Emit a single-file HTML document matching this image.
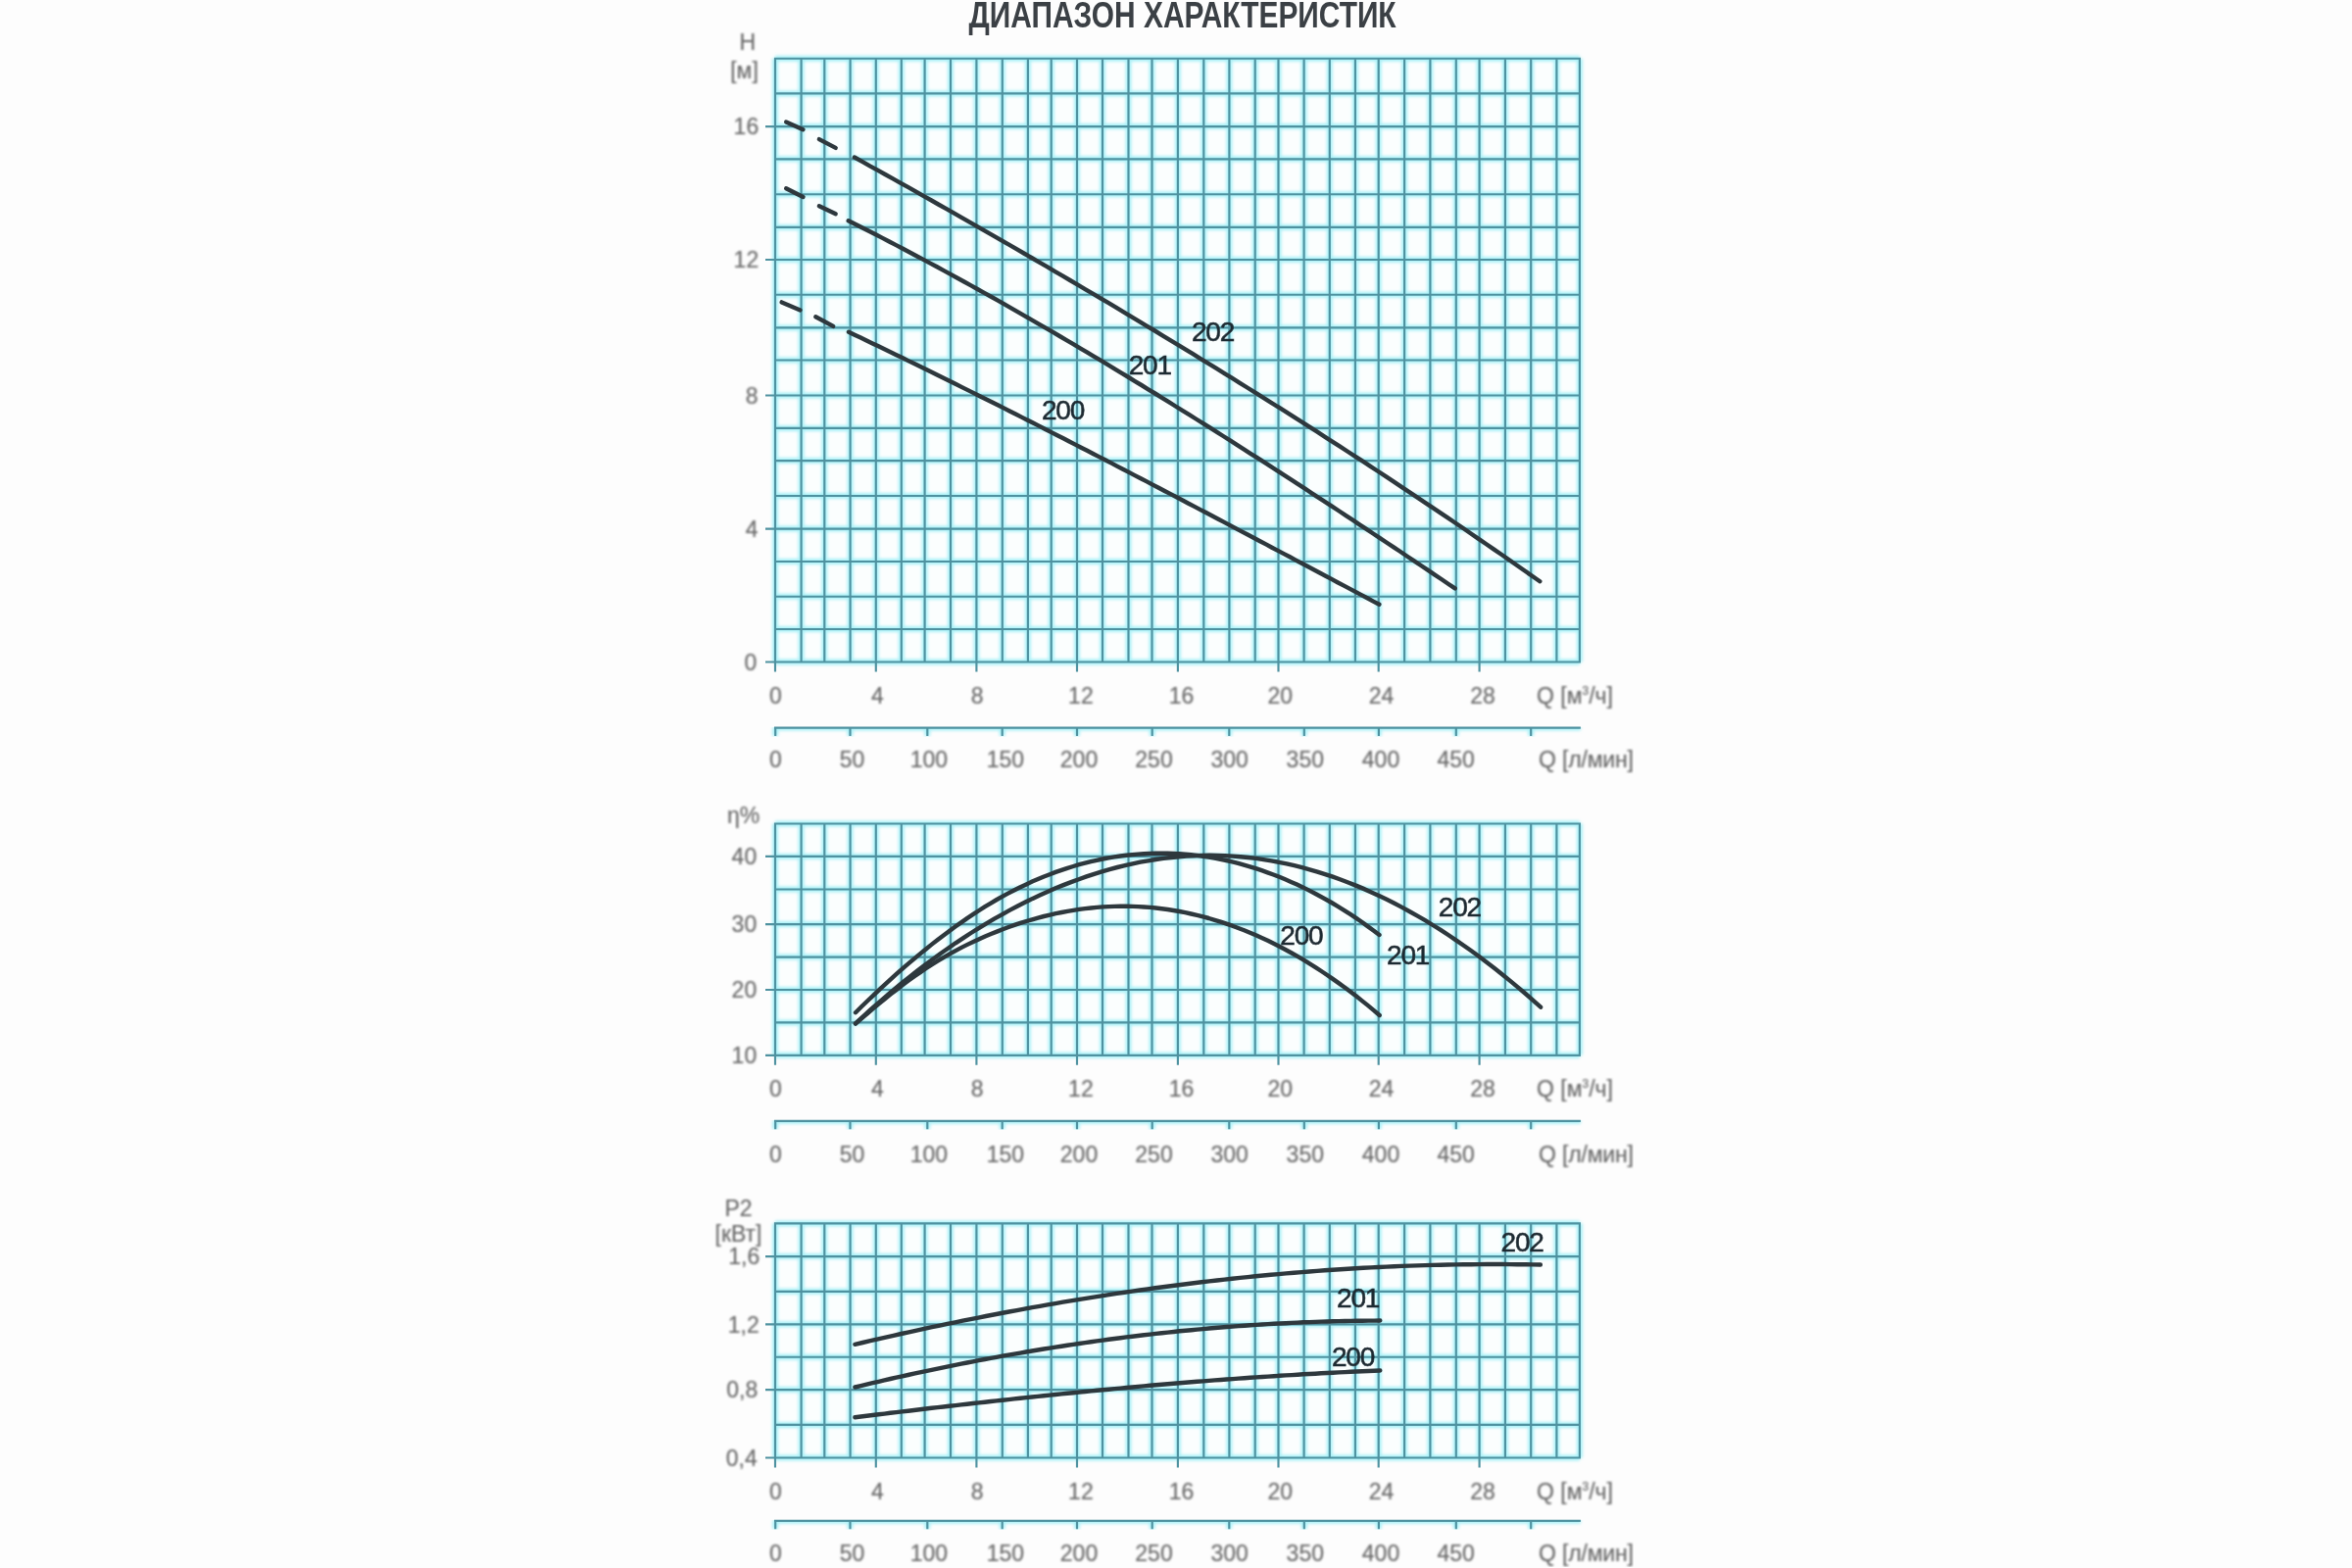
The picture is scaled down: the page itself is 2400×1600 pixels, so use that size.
<!DOCTYPE html>
<html><head><meta charset="utf-8"><title>Диапазон характеристик</title><style>
html,body{margin:0;padding:0;background:#fdfdfd;overflow:hidden}
svg{display:block}
text{font-family:"Liberation Sans",sans-serif}
.ax{fill:#666666;font-size:23px;stroke:#666666;stroke-width:0.15px;filter:url(#tb)}
.cl{fill:#1f2a31;font-size:28px;letter-spacing:-1.2px;stroke:#1f2a31;stroke-width:0.55px;filter:url(#tb2)}
.ttl{fill:#3b4045;font-size:37px;font-weight:bold}
</style></head><body>
<svg width="2400" height="1600" viewBox="0 0 2400 1600">
<defs><filter id="gl" x="-5%" y="-5%" width="110%" height="110%"><feGaussianBlur stdDeviation="1.4"/></filter><filter id="soft" x="0" y="0" width="100%" height="100%"><feGaussianBlur stdDeviation="0.55"/></filter><filter id="tb" x="-10%" y="-10%" width="120%" height="120%"><feGaussianBlur stdDeviation="0.9"/></filter><filter id="tb2" x="-10%" y="-10%" width="120%" height="120%"><feGaussianBlur stdDeviation="0.6"/></filter></defs>
<g filter="url(#soft)">
<rect x="791.0" y="59.7" width="820.9" height="615.8" fill="#fbfefe"/>
<path d="M791.0 59.7H1611.9M791.0 95.4H1611.9M791.0 129.1H1611.9M791.0 162.3H1611.9M791.0 198.2H1611.9M791.0 231.9H1611.9M791.0 265.0H1611.9M791.0 300.7H1611.9M791.0 334.4H1611.9M791.0 367.5H1611.9M791.0 403.5H1611.9M791.0 436.9H1611.9M791.0 470.1H1611.9M791.0 506.0H1611.9M791.0 539.6H1611.9M791.0 573.0H1611.9M791.0 608.7H1611.9M791.0 642.0H1611.9M791.0 675.5H1611.9M791.0 59.7V675.5M817.6 59.7V675.5M841.3 59.7V675.5M867.6 59.7V675.5M893.8 59.7V675.5M919.8 59.7V675.5M943.6 59.7V675.5M970.0 59.7V675.5M996.4 59.7V675.5M1022.8 59.7V675.5M1048.9 59.7V675.5M1072.7 59.7V675.5M1099.0 59.7V675.5M1125.0 59.7V675.5M1151.5 59.7V675.5M1175.5 59.7V675.5M1201.9 59.7V675.5M1228.3 59.7V675.5M1254.4 59.7V675.5M1280.7 59.7V675.5M1304.5 59.7V675.5M1330.6 59.7V675.5M1356.8 59.7V675.5M1382.9 59.7V675.5M1406.7 59.7V675.5M1433.1 59.7V675.5M1459.4 59.7V675.5M1485.8 59.7V675.5M1509.6 59.7V675.5M1535.9 59.7V675.5M1562.2 59.7V675.5M1588.4 59.7V675.5M1611.9 59.7V675.5" stroke="#a8f1f8" stroke-width="6" fill="none" filter="url(#gl)"/>
<path d="M791.0 59.7H1611.9M791.0 95.4H1611.9M791.0 129.1H1611.9M791.0 162.3H1611.9M791.0 198.2H1611.9M791.0 231.9H1611.9M791.0 265.0H1611.9M791.0 300.7H1611.9M791.0 334.4H1611.9M791.0 367.5H1611.9M791.0 403.5H1611.9M791.0 436.9H1611.9M791.0 470.1H1611.9M791.0 506.0H1611.9M791.0 539.6H1611.9M791.0 573.0H1611.9M791.0 608.7H1611.9M791.0 642.0H1611.9M791.0 675.5H1611.9M791.0 59.7V675.5M817.6 59.7V675.5M841.3 59.7V675.5M867.6 59.7V675.5M893.8 59.7V675.5M919.8 59.7V675.5M943.6 59.7V675.5M970.0 59.7V675.5M996.4 59.7V675.5M1022.8 59.7V675.5M1048.9 59.7V675.5M1072.7 59.7V675.5M1099.0 59.7V675.5M1125.0 59.7V675.5M1151.5 59.7V675.5M1175.5 59.7V675.5M1201.9 59.7V675.5M1228.3 59.7V675.5M1254.4 59.7V675.5M1280.7 59.7V675.5M1304.5 59.7V675.5M1330.6 59.7V675.5M1356.8 59.7V675.5M1382.9 59.7V675.5M1406.7 59.7V675.5M1433.1 59.7V675.5M1459.4 59.7V675.5M1485.8 59.7V675.5M1509.6 59.7V675.5M1535.9 59.7V675.5M1562.2 59.7V675.5M1588.4 59.7V675.5M1611.9 59.7V675.5" stroke="#4f92a0" stroke-width="2.15" fill="none" stroke-linecap="square"/>
<path d="M781 129.1H791.0M781 265.0H791.0M781 403.5H791.0M781 539.6H791.0M781 675.5H791.0M791.0 675.5v10M893.8 675.5v10M996.4 675.5v10M1099.0 675.5v10M1201.9 675.5v10M1304.5 675.5v10M1406.7 675.5v10M1509.6 675.5v10" stroke="#4f92a0" stroke-width="2.15" fill="none"/>
<path d="M790.0 742.6H1612.9M791.2 742.6v8.5M867.5 742.6v8.5M946.3 742.6v8.5M1022.7 742.6v8.5M1099.0 742.6v8.5M1175.7 742.6v8.5M1254.3 742.6v8.5M1330.8 742.6v8.5M1406.9 742.6v8.5M1485.8 742.6v8.5M1562.2 742.6v8.5" stroke="#a8f1f8" stroke-width="6" fill="none" filter="url(#gl)"/>
<path d="M790.0 742.6H1612.9M791.2 742.6v8.5M867.5 742.6v8.5M946.3 742.6v8.5M1022.7 742.6v8.5M1099.0 742.6v8.5M1175.7 742.6v8.5M1254.3 742.6v8.5M1330.8 742.6v8.5M1406.9 742.6v8.5M1485.8 742.6v8.5M1562.2 742.6v8.5" stroke="#4f92a0" stroke-width="2.15" fill="none"/>
<text class="ax" x="774.2" y="137.4" text-anchor="end">16</text>
<text class="ax" x="774.2" y="273.3" text-anchor="end">12</text>
<text class="ax" x="773.5" y="411.8" text-anchor="end">8</text>
<text class="ax" x="773.5" y="547.9" text-anchor="end">4</text>
<text class="ax" x="772.2" y="683.8" text-anchor="end">0</text>
<text class="ax lx" x="791.5" y="717.6" text-anchor="middle">0</text>
<text class="ax lx" x="895.3" y="717.6" text-anchor="middle">4</text>
<text class="ax lx" x="997.2" y="717.6" text-anchor="middle">8</text>
<text class="ax lx" x="1102.9" y="717.6" text-anchor="middle">12</text>
<text class="ax lx" x="1205.6" y="717.6" text-anchor="middle">16</text>
<text class="ax lx" x="1306.3" y="717.6" text-anchor="middle">20</text>
<text class="ax lx" x="1409.6" y="717.6" text-anchor="middle">24</text>
<text class="ax lx" x="1513.0" y="717.6" text-anchor="middle">28</text>
<text class="ax" x="1568" y="717.6">Q [м<tspan font-size="12" dy="-8.5">3</tspan><tspan dy="8.5">/ч]</tspan></text>
<text class="ax lx" x="791.5" y="783.1" text-anchor="middle">0</text>
<text class="ax lx" x="869.5" y="783.1" text-anchor="middle">50</text>
<text class="ax lx" x="947.9" y="783.1" text-anchor="middle">100</text>
<text class="ax lx" x="1025.9" y="783.1" text-anchor="middle">150</text>
<text class="ax lx" x="1101.0" y="783.1" text-anchor="middle">200</text>
<text class="ax lx" x="1177.5" y="783.1" text-anchor="middle">250</text>
<text class="ax lx" x="1254.6" y="783.1" text-anchor="middle">300</text>
<text class="ax lx" x="1331.8" y="783.1" text-anchor="middle">350</text>
<text class="ax lx" x="1409.0" y="783.1" text-anchor="middle">400</text>
<text class="ax lx" x="1485.7" y="783.1" text-anchor="middle">450</text>
<text class="ax" x="1570" y="783.1" textLength="97" lengthAdjust="spacing">Q [л/мин]</text>
<rect x="791.0" y="840.5" width="820.9" height="236.3" fill="#fbfefe"/>
<path d="M791.0 840.5H1611.9M791.0 873.9H1611.9M791.0 907.5H1611.9M791.0 943.1H1611.9M791.0 976.6H1611.9M791.0 1010.0H1611.9M791.0 1043.4H1611.9M791.0 1076.8H1611.9M791.0 840.5V1076.8M817.6 840.5V1076.8M841.3 840.5V1076.8M867.6 840.5V1076.8M893.8 840.5V1076.8M919.8 840.5V1076.8M943.6 840.5V1076.8M970.0 840.5V1076.8M996.4 840.5V1076.8M1022.8 840.5V1076.8M1048.9 840.5V1076.8M1072.7 840.5V1076.8M1099.0 840.5V1076.8M1125.0 840.5V1076.8M1151.5 840.5V1076.8M1175.5 840.5V1076.8M1201.9 840.5V1076.8M1228.3 840.5V1076.8M1254.4 840.5V1076.8M1280.7 840.5V1076.8M1304.5 840.5V1076.8M1330.6 840.5V1076.8M1356.8 840.5V1076.8M1382.9 840.5V1076.8M1406.7 840.5V1076.8M1433.1 840.5V1076.8M1459.4 840.5V1076.8M1485.8 840.5V1076.8M1509.6 840.5V1076.8M1535.9 840.5V1076.8M1562.2 840.5V1076.8M1588.4 840.5V1076.8M1611.9 840.5V1076.8" stroke="#a8f1f8" stroke-width="6" fill="none" filter="url(#gl)"/>
<path d="M791.0 840.5H1611.9M791.0 873.9H1611.9M791.0 907.5H1611.9M791.0 943.1H1611.9M791.0 976.6H1611.9M791.0 1010.0H1611.9M791.0 1043.4H1611.9M791.0 1076.8H1611.9M791.0 840.5V1076.8M817.6 840.5V1076.8M841.3 840.5V1076.8M867.6 840.5V1076.8M893.8 840.5V1076.8M919.8 840.5V1076.8M943.6 840.5V1076.8M970.0 840.5V1076.8M996.4 840.5V1076.8M1022.8 840.5V1076.8M1048.9 840.5V1076.8M1072.7 840.5V1076.8M1099.0 840.5V1076.8M1125.0 840.5V1076.8M1151.5 840.5V1076.8M1175.5 840.5V1076.8M1201.9 840.5V1076.8M1228.3 840.5V1076.8M1254.4 840.5V1076.8M1280.7 840.5V1076.8M1304.5 840.5V1076.8M1330.6 840.5V1076.8M1356.8 840.5V1076.8M1382.9 840.5V1076.8M1406.7 840.5V1076.8M1433.1 840.5V1076.8M1459.4 840.5V1076.8M1485.8 840.5V1076.8M1509.6 840.5V1076.8M1535.9 840.5V1076.8M1562.2 840.5V1076.8M1588.4 840.5V1076.8M1611.9 840.5V1076.8" stroke="#4f92a0" stroke-width="2.15" fill="none" stroke-linecap="square"/>
<path d="M781 873.9H791.0M781 943.1H791.0M781 1010.0H791.0M781 1076.8H791.0M791.0 1076.8v10M893.8 1076.8v10M996.4 1076.8v10M1099.0 1076.8v10M1201.9 1076.8v10M1304.5 1076.8v10M1406.7 1076.8v10M1509.6 1076.8v10" stroke="#4f92a0" stroke-width="2.15" fill="none"/>
<path d="M790.0 1143.8H1612.9M791.2 1143.8v8.5M867.5 1143.8v8.5M946.3 1143.8v8.5M1022.7 1143.8v8.5M1099.0 1143.8v8.5M1175.7 1143.8v8.5M1254.3 1143.8v8.5M1330.8 1143.8v8.5M1406.9 1143.8v8.5M1485.8 1143.8v8.5M1562.2 1143.8v8.5" stroke="#a8f1f8" stroke-width="6" fill="none" filter="url(#gl)"/>
<path d="M790.0 1143.8H1612.9M791.2 1143.8v8.5M867.5 1143.8v8.5M946.3 1143.8v8.5M1022.7 1143.8v8.5M1099.0 1143.8v8.5M1175.7 1143.8v8.5M1254.3 1143.8v8.5M1330.8 1143.8v8.5M1406.9 1143.8v8.5M1485.8 1143.8v8.5M1562.2 1143.8v8.5" stroke="#4f92a0" stroke-width="2.15" fill="none"/>
<text class="ax" x="772.2" y="882.2" text-anchor="end">40</text>
<text class="ax" x="772.2" y="951.4" text-anchor="end">30</text>
<text class="ax" x="772.2" y="1018.3" text-anchor="end">20</text>
<text class="ax" x="772.2" y="1085.1" text-anchor="end">10</text>
<text class="ax lx" x="791.5" y="1118.9" text-anchor="middle">0</text>
<text class="ax lx" x="895.3" y="1118.9" text-anchor="middle">4</text>
<text class="ax lx" x="997.2" y="1118.9" text-anchor="middle">8</text>
<text class="ax lx" x="1102.9" y="1118.9" text-anchor="middle">12</text>
<text class="ax lx" x="1205.6" y="1118.9" text-anchor="middle">16</text>
<text class="ax lx" x="1306.3" y="1118.9" text-anchor="middle">20</text>
<text class="ax lx" x="1409.6" y="1118.9" text-anchor="middle">24</text>
<text class="ax lx" x="1513.0" y="1118.9" text-anchor="middle">28</text>
<text class="ax" x="1568" y="1118.9">Q [м<tspan font-size="12" dy="-8.5">3</tspan><tspan dy="8.5">/ч]</tspan></text>
<text class="ax lx" x="791.5" y="1185.6" text-anchor="middle">0</text>
<text class="ax lx" x="869.5" y="1185.6" text-anchor="middle">50</text>
<text class="ax lx" x="947.9" y="1185.6" text-anchor="middle">100</text>
<text class="ax lx" x="1025.9" y="1185.6" text-anchor="middle">150</text>
<text class="ax lx" x="1101.0" y="1185.6" text-anchor="middle">200</text>
<text class="ax lx" x="1177.5" y="1185.6" text-anchor="middle">250</text>
<text class="ax lx" x="1254.6" y="1185.6" text-anchor="middle">300</text>
<text class="ax lx" x="1331.8" y="1185.6" text-anchor="middle">350</text>
<text class="ax lx" x="1409.0" y="1185.6" text-anchor="middle">400</text>
<text class="ax lx" x="1485.7" y="1185.6" text-anchor="middle">450</text>
<text class="ax" x="1570" y="1185.6" textLength="97" lengthAdjust="spacing">Q [л/мин]</text>
<rect x="791.0" y="1248.4" width="820.9" height="239.1" fill="#fbfefe"/>
<path d="M791.0 1248.4H1611.9M791.0 1282.1H1611.9M791.0 1317.8H1611.9M791.0 1351.3H1611.9M791.0 1384.7H1611.9M791.0 1418.1H1611.9M791.0 1453.9H1611.9M791.0 1487.5H1611.9M791.0 1248.4V1487.5M817.6 1248.4V1487.5M841.3 1248.4V1487.5M867.6 1248.4V1487.5M893.8 1248.4V1487.5M919.8 1248.4V1487.5M943.6 1248.4V1487.5M970.0 1248.4V1487.5M996.4 1248.4V1487.5M1022.8 1248.4V1487.5M1048.9 1248.4V1487.5M1072.7 1248.4V1487.5M1099.0 1248.4V1487.5M1125.0 1248.4V1487.5M1151.5 1248.4V1487.5M1175.5 1248.4V1487.5M1201.9 1248.4V1487.5M1228.3 1248.4V1487.5M1254.4 1248.4V1487.5M1280.7 1248.4V1487.5M1304.5 1248.4V1487.5M1330.6 1248.4V1487.5M1356.8 1248.4V1487.5M1382.9 1248.4V1487.5M1406.7 1248.4V1487.5M1433.1 1248.4V1487.5M1459.4 1248.4V1487.5M1485.8 1248.4V1487.5M1509.6 1248.4V1487.5M1535.9 1248.4V1487.5M1562.2 1248.4V1487.5M1588.4 1248.4V1487.5M1611.9 1248.4V1487.5" stroke="#a8f1f8" stroke-width="6" fill="none" filter="url(#gl)"/>
<path d="M791.0 1248.4H1611.9M791.0 1282.1H1611.9M791.0 1317.8H1611.9M791.0 1351.3H1611.9M791.0 1384.7H1611.9M791.0 1418.1H1611.9M791.0 1453.9H1611.9M791.0 1487.5H1611.9M791.0 1248.4V1487.5M817.6 1248.4V1487.5M841.3 1248.4V1487.5M867.6 1248.4V1487.5M893.8 1248.4V1487.5M919.8 1248.4V1487.5M943.6 1248.4V1487.5M970.0 1248.4V1487.5M996.4 1248.4V1487.5M1022.8 1248.4V1487.5M1048.9 1248.4V1487.5M1072.7 1248.4V1487.5M1099.0 1248.4V1487.5M1125.0 1248.4V1487.5M1151.5 1248.4V1487.5M1175.5 1248.4V1487.5M1201.9 1248.4V1487.5M1228.3 1248.4V1487.5M1254.4 1248.4V1487.5M1280.7 1248.4V1487.5M1304.5 1248.4V1487.5M1330.6 1248.4V1487.5M1356.8 1248.4V1487.5M1382.9 1248.4V1487.5M1406.7 1248.4V1487.5M1433.1 1248.4V1487.5M1459.4 1248.4V1487.5M1485.8 1248.4V1487.5M1509.6 1248.4V1487.5M1535.9 1248.4V1487.5M1562.2 1248.4V1487.5M1588.4 1248.4V1487.5M1611.9 1248.4V1487.5" stroke="#4f92a0" stroke-width="2.15" fill="none" stroke-linecap="square"/>
<path d="M781 1282.1H791.0M781 1351.3H791.0M781 1418.1H791.0M781 1487.5H791.0M791.0 1487.5v10M893.8 1487.5v10M996.4 1487.5v10M1099.0 1487.5v10M1201.9 1487.5v10M1304.5 1487.5v10M1406.7 1487.5v10M1509.6 1487.5v10" stroke="#4f92a0" stroke-width="2.15" fill="none"/>
<path d="M790.0 1551.8H1612.9M791.2 1551.8v8.5M867.5 1551.8v8.5M946.3 1551.8v8.5M1022.7 1551.8v8.5M1099.0 1551.8v8.5M1175.7 1551.8v8.5M1254.3 1551.8v8.5M1330.8 1551.8v8.5M1406.9 1551.8v8.5M1485.8 1551.8v8.5M1562.2 1551.8v8.5" stroke="#a8f1f8" stroke-width="6" fill="none" filter="url(#gl)"/>
<path d="M790.0 1551.8H1612.9M791.2 1551.8v8.5M867.5 1551.8v8.5M946.3 1551.8v8.5M1022.7 1551.8v8.5M1099.0 1551.8v8.5M1175.7 1551.8v8.5M1254.3 1551.8v8.5M1330.8 1551.8v8.5M1406.9 1551.8v8.5M1485.8 1551.8v8.5M1562.2 1551.8v8.5" stroke="#4f92a0" stroke-width="2.15" fill="none"/>
<text class="ax" x="775.2" y="1290.4" text-anchor="end">1,6</text>
<text class="ax" x="774.8" y="1359.6" text-anchor="end">1,2</text>
<text class="ax" x="773.2" y="1426.4" text-anchor="end">0,8</text>
<text class="ax" x="772.8" y="1495.8" text-anchor="end">0,4</text>
<text class="ax lx" x="791.5" y="1529.6" text-anchor="middle">0</text>
<text class="ax lx" x="895.3" y="1529.6" text-anchor="middle">4</text>
<text class="ax lx" x="997.2" y="1529.6" text-anchor="middle">8</text>
<text class="ax lx" x="1102.9" y="1529.6" text-anchor="middle">12</text>
<text class="ax lx" x="1205.6" y="1529.6" text-anchor="middle">16</text>
<text class="ax lx" x="1306.3" y="1529.6" text-anchor="middle">20</text>
<text class="ax lx" x="1409.6" y="1529.6" text-anchor="middle">24</text>
<text class="ax lx" x="1513.0" y="1529.6" text-anchor="middle">28</text>
<text class="ax" x="1568" y="1529.6">Q [м<tspan font-size="12" dy="-8.5">3</tspan><tspan dy="8.5">/ч]</tspan></text>
<text class="ax lx" x="791.5" y="1593.3" text-anchor="middle">0</text>
<text class="ax lx" x="869.5" y="1593.3" text-anchor="middle">50</text>
<text class="ax lx" x="947.9" y="1593.3" text-anchor="middle">100</text>
<text class="ax lx" x="1025.9" y="1593.3" text-anchor="middle">150</text>
<text class="ax lx" x="1101.0" y="1593.3" text-anchor="middle">200</text>
<text class="ax lx" x="1177.5" y="1593.3" text-anchor="middle">250</text>
<text class="ax lx" x="1254.6" y="1593.3" text-anchor="middle">300</text>
<text class="ax lx" x="1331.8" y="1593.3" text-anchor="middle">350</text>
<text class="ax lx" x="1409.0" y="1593.3" text-anchor="middle">400</text>
<text class="ax lx" x="1485.7" y="1593.3" text-anchor="middle">450</text>
<text class="ax" x="1570" y="1593.3" textLength="97" lengthAdjust="spacing">Q [л/мин]</text>
<text class="ax" x="762.8" y="51" text-anchor="middle">H</text>
<text class="ax" x="759.5" y="80" text-anchor="middle">[м]</text>
<text class="ax" x="758.7" y="840" text-anchor="middle">η%</text>
<text class="ax" x="753.5" y="1241" text-anchor="middle">P2</text>
<text class="ax" x="753.5" y="1267" text-anchor="middle">[кВт]</text>
<text class="ttl" x="1206.6" y="28" text-anchor="middle" textLength="436" lengthAdjust="spacingAndGlyphs">ДИАПАЗОН ХАРАКТЕРИСТИК</text>
<path d="M871.9 160.5 L879.8 164.9 L887.6 169.3 L895.5 173.7 L903.3 178.0 L911.2 182.4 L919.1 186.8 L926.9 191.2 L934.8 195.7 L942.6 200.1 L950.5 204.5 L958.3 209.0 L966.2 213.4 L974.1 217.9 L981.9 222.4 L989.8 226.8 L997.6 231.3 L1005.5 235.8 L1013.4 240.3 L1021.2 244.9 L1029.1 249.4 L1036.9 253.9 L1044.8 258.5 L1052.6 263.0 L1060.5 267.6 L1068.4 272.2 L1076.2 276.8 L1084.1 281.4 L1091.9 286.0 L1099.8 290.6 L1107.7 295.3 L1115.5 299.9 L1123.4 304.6 L1131.2 309.2 L1139.1 313.9 L1146.9 318.6 L1154.8 323.3 L1162.7 328.1 L1170.5 332.8 L1178.4 337.5 L1186.2 342.3 L1194.1 347.1 L1202.0 351.8 L1209.8 356.6 L1217.7 361.4 L1225.5 366.3 L1233.4 371.1 L1241.2 375.9 L1249.1 380.8 L1257.0 385.7 L1264.8 390.6 L1272.7 395.5 L1280.5 400.4 L1288.4 405.3 L1296.3 410.3 L1304.1 415.2 L1312.0 420.2 L1319.8 425.2 L1327.7 430.2 L1335.5 435.2 L1343.4 440.2 L1351.3 445.3 L1359.1 450.3 L1367.0 455.4 L1374.8 460.5 L1382.7 465.6 L1390.6 470.7 L1398.4 475.9 L1406.3 481.0 L1414.1 486.2 L1422.0 491.4 L1429.8 496.6 L1437.7 501.8 L1445.6 507.1 L1453.4 512.3 L1461.3 517.6 L1469.1 522.9 L1477.0 528.2 L1484.9 533.5 L1492.7 538.8 L1500.6 544.2 L1508.4 549.6 L1516.3 555.0 L1524.1 560.4 L1532.0 565.8 L1539.9 571.2 L1547.7 576.7 L1555.6 582.2 L1563.4 587.7 L1571.3 593.2" stroke="#2e383e" stroke-width="4.4" fill="none" stroke-linecap="round" stroke-linejoin="round"/>
<path d="M865.7 225.2 L872.7 228.7 L879.6 232.2 L886.6 235.8 L893.5 239.3 L900.5 242.9 L907.4 246.5 L914.4 250.1 L921.3 253.8 L928.3 257.5 L935.3 261.2 L942.2 264.9 L949.2 268.6 L956.1 272.3 L963.1 276.1 L970.0 279.9 L977.0 283.7 L983.9 287.5 L990.9 291.4 L997.8 295.2 L1004.8 299.1 L1011.8 303.0 L1018.7 306.9 L1025.7 310.9 L1032.6 314.8 L1039.6 318.8 L1046.5 322.8 L1053.5 326.8 L1060.4 330.8 L1067.4 334.8 L1074.4 338.9 L1081.3 343.0 L1088.3 347.1 L1095.2 351.2 L1102.2 355.3 L1109.1 359.4 L1116.1 363.6 L1123.0 367.7 L1130.0 371.9 L1136.9 376.1 L1143.9 380.3 L1150.9 384.5 L1157.8 388.8 L1164.8 393.0 L1171.7 397.3 L1178.7 401.5 L1185.6 405.8 L1192.6 410.1 L1199.5 414.5 L1206.5 418.8 L1213.5 423.1 L1220.4 427.5 L1227.4 431.9 L1234.3 436.2 L1241.3 440.6 L1248.2 445.0 L1255.2 449.4 L1262.1 453.9 L1269.1 458.3 L1276.0 462.8 L1283.0 467.2 L1290.0 471.7 L1296.9 476.2 L1303.9 480.7 L1310.8 485.2 L1317.8 489.7 L1324.7 494.2 L1331.7 498.7 L1338.6 503.3 L1345.6 507.8 L1352.6 512.4 L1359.5 516.9 L1366.5 521.5 L1373.4 526.1 L1380.4 530.7 L1387.3 535.3 L1394.3 539.9 L1401.2 544.5 L1408.2 549.1 L1415.1 553.8 L1422.1 558.4 L1429.1 563.0 L1436.0 567.7 L1443.0 572.3 L1449.9 577.0 L1456.9 581.7 L1463.8 586.3 L1470.8 591.0 L1477.7 595.7 L1484.7 600.4" stroke="#2e383e" stroke-width="4.4" fill="none" stroke-linecap="round" stroke-linejoin="round"/>
<path d="M866.0 338.8 L872.1 341.7 L878.2 344.6 L884.2 347.5 L890.3 350.4 L896.4 353.3 L902.5 356.3 L908.6 359.2 L914.7 362.2 L920.7 365.1 L926.8 368.1 L932.9 371.0 L939.0 374.0 L945.1 377.0 L951.2 380.0 L957.2 383.0 L963.3 386.0 L969.4 389.0 L975.5 392.0 L981.6 395.1 L987.7 398.1 L993.7 401.1 L999.8 404.2 L1005.9 407.2 L1012.0 410.3 L1018.1 413.3 L1024.2 416.4 L1030.2 419.5 L1036.3 422.5 L1042.4 425.6 L1048.5 428.7 L1054.6 431.8 L1060.7 434.9 L1066.7 438.0 L1072.8 441.1 L1078.9 444.2 L1085.0 447.3 L1091.1 450.5 L1097.2 453.6 L1103.2 456.7 L1109.3 459.8 L1115.4 463.0 L1121.5 466.1 L1127.6 469.3 L1133.7 472.4 L1139.7 475.6 L1145.8 478.7 L1151.9 481.9 L1158.0 485.1 L1164.1 488.2 L1170.2 491.4 L1176.2 494.6 L1182.3 497.8 L1188.4 501.0 L1194.5 504.1 L1200.6 507.3 L1206.7 510.5 L1212.7 513.7 L1218.8 516.9 L1224.9 520.1 L1231.0 523.3 L1237.1 526.5 L1243.2 529.7 L1249.2 532.9 L1255.3 536.1 L1261.4 539.4 L1267.5 542.6 L1273.6 545.8 L1279.7 549.0 L1285.7 552.2 L1291.8 555.4 L1297.9 558.7 L1304.0 561.9 L1310.1 565.1 L1316.2 568.3 L1322.2 571.6 L1328.3 574.8 L1334.4 578.0 L1340.5 581.2 L1346.6 584.5 L1352.7 587.7 L1358.7 590.9 L1364.8 594.2 L1370.9 597.4 L1377.0 600.6 L1383.1 603.9 L1389.2 607.1 L1395.2 610.3 L1401.3 613.6 L1407.4 616.8" stroke="#2e383e" stroke-width="4.4" fill="none" stroke-linecap="round" stroke-linejoin="round"/>
<path d="M802.2 124.5L819.5 132.2" stroke="#2e383e" stroke-width="4.4" fill="none" stroke-linecap="round" stroke-linejoin="round"/>
<path d="M835.9 142.1L852.7 150.9" stroke="#2e383e" stroke-width="4.4" fill="none" stroke-linecap="round" stroke-linejoin="round"/>
<path d="M802.2 192.2L819.5 201" stroke="#2e383e" stroke-width="4.4" fill="none" stroke-linecap="round" stroke-linejoin="round"/>
<path d="M835.9 210.2L852.7 218.3" stroke="#2e383e" stroke-width="4.4" fill="none" stroke-linecap="round" stroke-linejoin="round"/>
<path d="M797.7 308.4L816.5 316.5" stroke="#2e383e" stroke-width="4.4" fill="none" stroke-linecap="round" stroke-linejoin="round"/>
<path d="M832.3 323.2L850.2 332.9" stroke="#2e383e" stroke-width="4.4" fill="none" stroke-linecap="round" stroke-linejoin="round"/>
<path d="M873.0 1033.2 L879.0 1027.3 L885.0 1021.5 L891.0 1015.8 L897.0 1010.1 L903.0 1004.6 L909.0 999.1 L915.0 993.7 L921.0 988.4 L927.1 983.2 L933.1 978.1 L939.1 973.1 L945.1 968.2 L951.1 963.4 L957.1 958.7 L963.1 954.2 L969.1 949.7 L975.1 945.3 L981.1 941.1 L987.1 936.9 L993.1 932.9 L999.1 929.0 L1005.1 925.2 L1011.1 921.6 L1017.1 918.0 L1023.1 914.6 L1029.1 911.4 L1035.2 908.2 L1041.2 905.2 L1047.2 902.4 L1053.2 899.6 L1059.2 897.0 L1065.2 894.5 L1071.2 892.2 L1077.2 889.9 L1083.2 887.8 L1089.2 885.8 L1095.2 884.0 L1101.2 882.2 L1107.2 880.6 L1113.2 879.1 L1119.2 877.8 L1125.2 876.5 L1131.2 875.4 L1137.2 874.4 L1143.3 873.5 L1149.3 872.8 L1155.3 872.1 L1161.3 871.6 L1167.3 871.2 L1173.3 870.9 L1179.3 870.8 L1185.3 870.7 L1191.3 870.8 L1197.3 871.0 L1203.3 871.3 L1209.3 871.7 L1215.3 872.3 L1221.3 872.9 L1227.3 873.7 L1233.3 874.6 L1239.3 875.6 L1245.3 876.8 L1251.4 878.0 L1257.4 879.4 L1263.4 880.9 L1269.4 882.6 L1275.4 884.3 L1281.4 886.2 L1287.4 888.2 L1293.4 890.3 L1299.4 892.5 L1305.4 894.8 L1311.4 897.3 L1317.4 899.9 L1323.4 902.6 L1329.4 905.4 L1335.4 908.4 L1341.4 911.5 L1347.4 914.7 L1353.4 918.0 L1359.5 921.5 L1365.5 925.1 L1371.5 928.8 L1377.5 932.7 L1383.5 936.7 L1389.5 940.8 L1395.5 945.1 L1401.5 949.5 L1407.5 954.0" stroke="#2e383e" stroke-width="4.4" fill="none" stroke-linecap="round" stroke-linejoin="round"/>
<path d="M873.0 1044.3 L880.9 1037.0 L888.7 1030.0 L896.6 1023.1 L904.4 1016.3 L912.3 1009.7 L920.1 1003.2 L928.0 996.9 L935.8 990.8 L943.7 984.8 L951.6 978.9 L959.4 973.3 L967.3 967.7 L975.1 962.3 L983.0 957.1 L990.8 952.0 L998.7 947.1 L1006.5 942.3 L1014.4 937.7 L1022.2 933.3 L1030.1 928.9 L1038.0 924.8 L1045.8 920.8 L1053.7 916.9 L1061.5 913.3 L1069.4 909.7 L1077.2 906.3 L1085.1 903.1 L1092.9 900.1 L1100.8 897.2 L1108.7 894.4 L1116.5 891.8 L1124.4 889.4 L1132.2 887.1 L1140.1 885.0 L1147.9 883.1 L1155.8 881.3 L1163.6 879.7 L1171.5 878.3 L1179.3 877.0 L1187.2 875.9 L1195.1 875.0 L1202.9 874.2 L1210.8 873.6 L1218.6 873.2 L1226.5 872.9 L1234.3 872.8 L1242.2 872.9 L1250.0 873.2 L1257.9 873.6 L1265.8 874.2 L1273.6 875.0 L1281.5 875.9 L1289.3 877.1 L1297.2 878.4 L1305.0 879.8 L1312.9 881.4 L1320.7 883.2 L1328.6 885.2 L1336.4 887.3 L1344.3 889.6 L1352.2 892.1 L1360.0 894.7 L1367.9 897.5 L1375.7 900.5 L1383.6 903.6 L1391.4 906.9 L1399.3 910.4 L1407.1 914.0 L1415.0 917.8 L1422.9 921.8 L1430.7 925.9 L1438.6 930.2 L1446.4 934.6 L1454.3 939.2 L1462.1 944.0 L1470.0 948.9 L1477.8 954.0 L1485.7 959.3 L1493.5 964.7 L1501.4 970.3 L1509.3 976.0 L1517.1 981.9 L1525.0 988.0 L1532.8 994.2 L1540.7 1000.6 L1548.5 1007.1 L1556.4 1013.8 L1564.2 1020.7 L1572.1 1027.7" stroke="#2e383e" stroke-width="4.4" fill="none" stroke-linecap="round" stroke-linejoin="round"/>
<path d="M873.0 1044.5 L879.0 1039.3 L885.0 1034.2 L891.0 1029.1 L897.0 1024.1 L903.0 1019.2 L909.0 1014.4 L915.1 1009.7 L921.1 1005.1 L927.1 1000.6 L933.1 996.3 L939.1 992.1 L945.1 988.0 L951.1 984.1 L957.1 980.4 L963.1 976.8 L969.1 973.4 L975.1 970.1 L981.1 966.9 L987.1 963.9 L993.2 961.0 L999.2 958.2 L1005.2 955.5 L1011.2 953.0 L1017.2 950.6 L1023.2 948.2 L1029.2 946.0 L1035.2 943.9 L1041.2 941.9 L1047.2 940.0 L1053.2 938.3 L1059.2 936.6 L1065.3 935.0 L1071.3 933.6 L1077.3 932.2 L1083.3 931.0 L1089.3 929.8 L1095.3 928.8 L1101.3 927.9 L1107.3 927.1 L1113.3 926.5 L1119.3 925.9 L1125.3 925.4 L1131.3 925.1 L1137.3 924.9 L1143.4 924.8 L1149.4 924.8 L1155.4 924.9 L1161.4 925.1 L1167.4 925.5 L1173.4 925.9 L1179.4 926.5 L1185.4 927.2 L1191.4 928.0 L1197.4 929.0 L1203.4 930.0 L1209.4 931.2 L1215.4 932.5 L1221.5 933.9 L1227.5 935.4 L1233.5 937.0 L1239.5 938.8 L1245.5 940.7 L1251.5 942.6 L1257.5 944.7 L1263.5 947.0 L1269.5 949.3 L1275.5 951.8 L1281.5 954.3 L1287.5 957.0 L1293.6 959.8 L1299.6 962.8 L1305.6 965.8 L1311.6 969.0 L1317.6 972.3 L1323.6 975.7 L1329.6 979.2 L1335.6 982.9 L1341.6 986.6 L1347.6 990.5 L1353.6 994.5 L1359.6 998.6 L1365.6 1002.9 L1371.7 1007.2 L1377.7 1011.7 L1383.7 1016.3 L1389.7 1021.1 L1395.7 1025.9 L1401.7 1030.9 L1407.7 1036.0" stroke="#2e383e" stroke-width="4.4" fill="none" stroke-linecap="round" stroke-linejoin="round"/>
<path d="M872.4 1371.8 L880.3 1370.0 L888.1 1368.2 L896.0 1366.4 L903.8 1364.6 L911.7 1362.8 L919.6 1361.0 L927.4 1359.3 L935.3 1357.6 L943.1 1355.9 L951.0 1354.2 L958.9 1352.6 L966.7 1350.9 L974.6 1349.3 L982.4 1347.7 L990.3 1346.1 L998.2 1344.6 L1006.0 1343.0 L1013.9 1341.5 L1021.7 1340.0 L1029.6 1338.5 L1037.5 1337.1 L1045.3 1335.6 L1053.2 1334.2 L1061.0 1332.8 L1068.9 1331.4 L1076.7 1330.1 L1084.6 1328.7 L1092.5 1327.4 L1100.3 1326.1 L1108.2 1324.8 L1116.0 1323.6 L1123.9 1322.3 L1131.8 1321.1 L1139.6 1319.9 L1147.5 1318.8 L1155.3 1317.6 L1163.2 1316.5 L1171.1 1315.4 L1178.9 1314.3 L1186.8 1313.3 L1194.6 1312.2 L1202.5 1311.2 L1210.4 1310.2 L1218.2 1309.2 L1226.1 1308.3 L1233.9 1307.4 L1241.8 1306.5 L1249.7 1305.6 L1257.5 1304.7 L1265.4 1303.9 L1273.2 1303.1 L1281.1 1302.3 L1289.0 1301.5 L1296.8 1300.8 L1304.7 1300.1 L1312.5 1299.4 L1320.4 1298.7 L1328.3 1298.1 L1336.1 1297.5 L1344.0 1296.9 L1351.8 1296.3 L1359.7 1295.7 L1367.6 1295.2 L1375.4 1294.7 L1383.3 1294.2 L1391.1 1293.8 L1399.0 1293.4 L1406.8 1293.0 L1414.7 1292.6 L1422.6 1292.2 L1430.4 1291.9 L1438.3 1291.6 L1446.1 1291.4 L1454.0 1291.1 L1461.9 1290.9 L1469.7 1290.7 L1477.6 1290.5 L1485.4 1290.4 L1493.3 1290.2 L1501.2 1290.2 L1509.0 1290.1 L1516.9 1290.0 L1524.7 1290.0 L1532.6 1290.0 L1540.5 1290.1 L1548.3 1290.2 L1556.2 1290.2 L1564.0 1290.4 L1571.9 1290.5" stroke="#2e383e" stroke-width="4.4" fill="none" stroke-linecap="round" stroke-linejoin="round"/>
<path d="M872.4 1415.5 L878.4 1414.1 L884.4 1412.6 L890.5 1411.2 L896.5 1409.8 L902.5 1408.4 L908.5 1407.0 L914.5 1405.7 L920.6 1404.3 L926.6 1403.0 L932.6 1401.7 L938.6 1400.4 L944.7 1399.1 L950.7 1397.8 L956.7 1396.6 L962.7 1395.3 L968.7 1394.1 L974.8 1392.9 L980.8 1391.7 L986.8 1390.5 L992.8 1389.3 L998.8 1388.2 L1004.9 1387.0 L1010.9 1385.9 L1016.9 1384.8 L1022.9 1383.7 L1029.0 1382.7 L1035.0 1381.6 L1041.0 1380.6 L1047.0 1379.5 L1053.0 1378.5 L1059.1 1377.5 L1065.1 1376.5 L1071.1 1375.6 L1077.1 1374.6 L1083.1 1373.7 L1089.2 1372.8 L1095.2 1371.9 L1101.2 1371.0 L1107.2 1370.1 L1113.3 1369.2 L1119.3 1368.4 L1125.3 1367.6 L1131.3 1366.8 L1137.3 1366.0 L1143.4 1365.2 L1149.4 1364.4 L1155.4 1363.7 L1161.4 1363.0 L1167.4 1362.3 L1173.5 1361.6 L1179.5 1360.9 L1185.5 1360.2 L1191.5 1359.6 L1197.6 1359.0 L1203.6 1358.3 L1209.6 1357.7 L1215.6 1357.2 L1221.6 1356.6 L1227.7 1356.1 L1233.7 1355.5 L1239.7 1355.0 L1245.7 1354.5 L1251.7 1354.0 L1257.8 1353.6 L1263.8 1353.1 L1269.8 1352.7 L1275.8 1352.3 L1281.9 1351.9 L1287.9 1351.5 L1293.9 1351.1 L1299.9 1350.8 L1305.9 1350.5 L1312.0 1350.2 L1318.0 1349.9 L1324.0 1349.6 L1330.0 1349.3 L1336.0 1349.1 L1342.1 1348.9 L1348.1 1348.6 L1354.1 1348.5 L1360.1 1348.3 L1366.2 1348.1 L1372.2 1348.0 L1378.2 1347.9 L1384.2 1347.8 L1390.2 1347.7 L1396.3 1347.6 L1402.3 1347.6 L1408.3 1347.5" stroke="#2e383e" stroke-width="4.4" fill="none" stroke-linecap="round" stroke-linejoin="round"/>
<path d="M872.4 1446.2 L878.4 1445.5 L884.4 1444.7 L890.5 1444.0 L896.5 1443.3 L902.5 1442.6 L908.5 1441.8 L914.5 1441.1 L920.6 1440.4 L926.6 1439.7 L932.6 1439.0 L938.6 1438.3 L944.7 1437.5 L950.7 1436.8 L956.7 1436.1 L962.7 1435.5 L968.7 1434.8 L974.8 1434.1 L980.8 1433.4 L986.8 1432.7 L992.8 1432.0 L998.8 1431.4 L1004.9 1430.7 L1010.9 1430.0 L1016.9 1429.4 L1022.9 1428.7 L1029.0 1428.1 L1035.0 1427.4 L1041.0 1426.8 L1047.0 1426.1 L1053.0 1425.5 L1059.1 1424.9 L1065.1 1424.2 L1071.1 1423.6 L1077.1 1423.0 L1083.1 1422.4 L1089.2 1421.8 L1095.2 1421.2 L1101.2 1420.6 L1107.2 1420.0 L1113.3 1419.4 L1119.3 1418.8 L1125.3 1418.2 L1131.3 1417.7 L1137.3 1417.1 L1143.4 1416.6 L1149.4 1416.0 L1155.4 1415.5 L1161.4 1414.9 L1167.4 1414.4 L1173.5 1413.8 L1179.5 1413.3 L1185.5 1412.8 L1191.5 1412.3 L1197.6 1411.8 L1203.6 1411.3 L1209.6 1410.8 L1215.6 1410.3 L1221.6 1409.8 L1227.7 1409.4 L1233.7 1408.9 L1239.7 1408.4 L1245.7 1408.0 L1251.7 1407.5 L1257.8 1407.1 L1263.8 1406.6 L1269.8 1406.2 L1275.8 1405.8 L1281.9 1405.4 L1287.9 1405.0 L1293.9 1404.6 L1299.9 1404.2 L1305.9 1403.8 L1312.0 1403.4 L1318.0 1403.1 L1324.0 1402.7 L1330.0 1402.3 L1336.0 1402.0 L1342.1 1401.7 L1348.1 1401.3 L1354.1 1401.0 L1360.1 1400.7 L1366.2 1400.4 L1372.2 1400.1 L1378.2 1399.8 L1384.2 1399.5 L1390.2 1399.2 L1396.3 1399.0 L1402.3 1398.7 L1408.3 1398.5" stroke="#2e383e" stroke-width="4.4" fill="none" stroke-linecap="round" stroke-linejoin="round"/>
<text class="cl" x="1216.0" y="348.2">202</text>
<text class="cl" x="1151.7" y="381.8">201</text>
<text class="cl" x="1063.0" y="427.8">200</text>
<text class="cl" x="1467.8" y="935.3">202</text>
<text class="cl" x="1306.3" y="964.2">200</text>
<text class="cl" x="1415.1" y="983.7">201</text>
<text class="cl" x="1531.6" y="1276.6">202</text>
<text class="cl" x="1364.1" y="1334.4">201</text>
<text class="cl" x="1359.0" y="1394.0">200</text>
</g>
</svg>
</body></html>
